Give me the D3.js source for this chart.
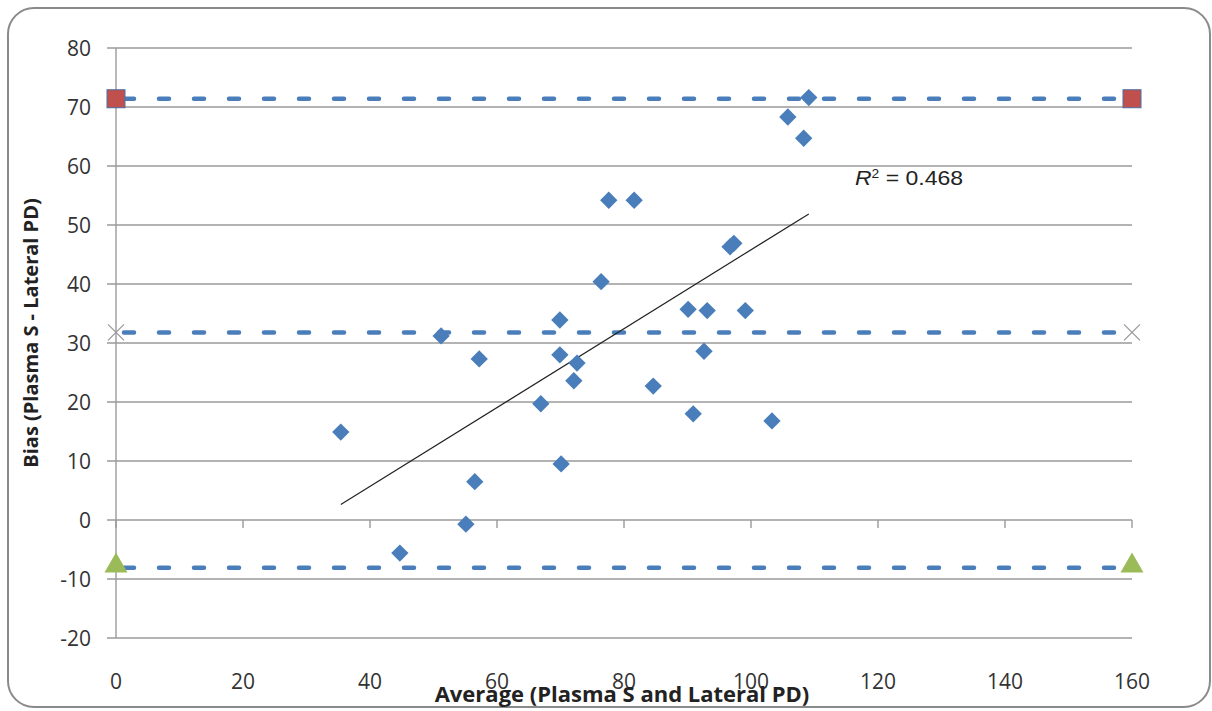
<!DOCTYPE html>
<html><head><meta charset="utf-8">
<script src="https://cdn.jsdelivr.net/npm/d3@7"></script>
<style>body{margin:0;background:#fff}svg{display:block}</style>
</head><body>
<svg id="c" width="1212" height="711"></svg>
<script>
const avgValues = [35.4,44.7,51.2,55.1,56.5,57.2,66.9,69.9,69.9,70.1,72.1,72.6,76.4,77.6,81.6,84.6,90.1,90.9,92.6,93.1,96.7,97.3,99.1,103.3,105.8,108.3,109.1];
const biasValues = [14.9,-5.6,31.2,-0.7,6.5,27.3,19.7,33.9,28.0,9.5,23.6,26.6,40.4,54.2,54.2,22.7,35.7,18.0,28.6,35.5,46.3,46.9,35.5,16.8,68.3,64.7,71.6];
const limitUpper = 71.4, meanBias = 31.8, limitLower = -8.1;
const limitX = [0, 160];
const xTicks = [0,20,40,60,80,100,120,140,160];
const yTicks = [-20,-10,0,10,20,30,40,50,60,70,80];
const r2Label = "0.468";
const xTitle = "Average (Plasma S and Lateral PD)";
const yTitle = "Bias (Plasma S - Lateral PD)";

const svg = d3.select("#c");
const x = d3.scaleLinear().domain([0,160]).range([116,1132]);
const y = d3.scaleLinear().domain([-20,80]).range([638,48]);
const font = "'Open Sans', 'Liberation Sans', sans-serif";

// frame
svg.append("rect").attr("x",8).attr("y",8).attr("width",1202).attr("height",699)
  .attr("rx",26).attr("fill","#fff").attr("stroke","#8a8a8a").attr("stroke-width",2);

// gridlines
svg.append("g").selectAll("line").data(yTicks).join("line")
  .attr("x1",x(0)-9).attr("x2",x(160)).attr("y1",d=>y(d)).attr("y2",d=>y(d))
  .attr("stroke","#9a9a9a").attr("stroke-width",1.4);
// y axis line
svg.append("line").attr("x1",x(0)).attr("x2",x(0)).attr("y1",y(80)).attr("y2",y(-20))
  .attr("stroke","#9a9a9a").attr("stroke-width",1.4);
// x ticks at y=0
svg.append("g").selectAll("line").data(xTicks).join("line")
  .attr("x1",d=>x(d)).attr("x2",d=>x(d)).attr("y1",y(0)).attr("y2",y(0)+8)
  .attr("stroke","#9a9a9a").attr("stroke-width",1.4);

// tick labels
svg.append("g").selectAll("text").data(yTicks).join("text")
  .attr("x",91).attr("y",d=>y(d)+8).attr("text-anchor","end")
  .attr("font-family",font).attr("font-size",21).attr("fill","#333").text(d=>d);
svg.append("g").selectAll("text").data(xTicks).join("text")
  .attr("x",d=>x(d)).attr("y",689).attr("text-anchor","middle")
  .attr("font-family",font).attr("font-size",21).attr("fill","#333").text(d=>d);

// axis titles
svg.append("text").attr("x",622).attr("y",702).attr("text-anchor","middle")
  .attr("font-family",font).attr("font-weight","bold").attr("font-size",22).attr("fill","#222").text(xTitle);
svg.append("text").attr("transform","translate(38,333) rotate(-90)").attr("text-anchor","middle")
  .attr("font-family",font).attr("font-weight","bold").attr("font-size",20).attr("fill","#222").text(yTitle);

// limit lines
const blue = "#4a7ebb";
[limitUpper, meanBias, limitLower].forEach(v=>{
  svg.append("line").attr("x1",x(limitX[0])+8).attr("x2",x(limitX[1])).attr("y1",y(v)).attr("y2",y(v))
    .attr("stroke",blue).attr("stroke-width",4.5).attr("stroke-dasharray","10,25").attr("stroke-linecap","round");
});

// trend line (least squares)
const n = avgValues.length;
const mx = d3.mean(avgValues), my = d3.mean(biasValues);
let sxy=0,sxx=0;
for(let i=0;i<n;i++){sxy+=(avgValues[i]-mx)*(biasValues[i]-my);sxx+=(avgValues[i]-mx)**2;}
const slope = sxy/sxx, icpt = my - slope*mx;
const xmin = d3.min(avgValues), xmax = d3.max(avgValues);
svg.append("line").attr("x1",x(xmin)).attr("x2",x(xmax)).attr("y1",y(icpt+slope*xmin)).attr("y2",y(icpt+slope*xmax))
  .attr("stroke","#222").attr("stroke-width",1.2);

// diamonds
svg.append("g").selectAll("path").data(avgValues.map((a,i)=>[a,biasValues[i]])).join("path")
  .attr("d", d3.symbol().type(d3.symbolSquare).size(150))
  .attr("transform",d=>`translate(${x(d[0])},${y(d[1])}) rotate(45)`)
  .attr("fill","#4a7ebb");

// end markers
limitX.forEach(v=>{
  svg.append("rect").attr("x",x(v)-9).attr("y",y(limitUpper)-9).attr("width",18).attr("height",18)
    .attr("fill","#c0504d").attr("stroke","#4f6fa5").attr("stroke-width",1);
  const cx=x(v), cy=y(meanBias);
  svg.append("path").attr("d",`M${cx-8},${cy-8}L${cx+8},${cy+8}M${cx-8},${cy+8}L${cx+8},${cy-8}`)
    .attr("stroke","#999").attr("stroke-width",1.3).attr("fill","none");
  svg.append("path").attr("d", d3.symbol().type(d3.symbolTriangle).size(230))
    .attr("transform",`translate(${x(v)},${y(limitLower)-2})`).attr("fill","#9bbb59");
});

// R2 label
const t = svg.append("text").attr("transform","translate(855,185) scale(1.15,1)")
  .attr("font-family","'Liberation Sans', Arial, sans-serif")
  .attr("font-size",20).attr("fill","#222");
t.append("tspan").attr("font-style","italic").text("R");
t.append("tspan").attr("font-size",12).attr("dy",-7).text("2");
t.append("tspan").attr("dy",7).text(" = " + r2Label);
</script>
</body></html>
